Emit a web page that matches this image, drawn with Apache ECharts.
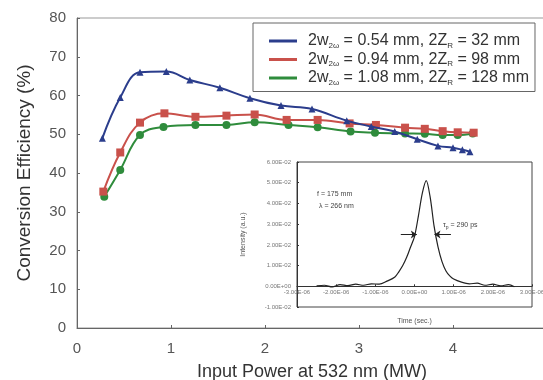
<!DOCTYPE html>
<html>
<head>
<meta charset="utf-8">
<script src="https://cdn.jsdelivr.net/npm/echarts@6/dist/echarts.min.js"></script>
<style>
  html, body { margin: 0; padding: 0; background: #fff; }
  #chart { width: 543px; height: 380px; }
</style>
</head>
<body>
<div id="chart"></div>
<script>
// main plot: conversion efficiency vs input power
const blueX = [0.27, 0.46, 0.67, 0.95, 1.2, 1.52, 1.84, 2.17, 2.5, 2.87, 3.13, 3.38, 3.62, 3.84, 4.0, 4.1, 4.18];
const blueY = [49, 59.5, 66, 66.2, 64, 62, 59.3, 57.4, 56.5, 53.5, 52, 50.7, 48.7, 47, 46.5, 46, 45.5];
const redX = [0.28, 0.46, 0.67, 0.93, 1.26, 1.59, 1.89, 2.23, 2.56, 2.9, 3.18, 3.49, 3.7, 3.89, 4.05, 4.22];
const redY = [35.2, 45.3, 53, 55.4, 54.5, 54.8, 55.1, 53.7, 53.7, 52.8, 52.4, 51.7, 51.4, 50.8, 50.5, 50.4];
const greenX = [0.29, 0.46, 0.67, 0.92, 1.26, 1.59, 1.89, 2.25, 2.56, 2.91, 3.17, 3.49, 3.7, 3.89, 4.05, 4.21];
const greenY = [33.9, 40.8, 49.8, 51.9, 52.4, 52.4, 53.1, 52.4, 51.8, 50.7, 50.4, 50.2, 50.1, 49.8, 49.8, 50.2];
const legendLabels = [
  '2w{sub|2ω} = 0.54 mm, 2Z{sub|R} = 32 mm',
  '2w{sub|2ω} = 0.94 mm, 2Z{sub|R} = 98 mm',
  '2w{sub|2ω} = 1.08 mm, 2Z{sub|R} = 128 mm'
];
const seriesNames = ['s054', 's094', 's108'];

// inset: pulse trace (time in s, intensity in a.u.)
const pulseTime = [-2.5e-6, -2.3e-6, -2.1e-6, -1.9e-6, -1.7e-6, -1.5e-6, -1.3e-6, -1.1e-6, -0.9e-6, -0.7e-6,
  -0.5e-6, -0.4e-6, -0.3e-6, -0.2e-6, -0.1e-6, 0, 0.1e-6, 0.2e-6, 0.3e-6, 0.4e-6, 0.5e-6, 0.6e-6, 0.7e-6,
  0.8e-6, 0.9e-6, 1.0e-6, 1.2e-6, 1.4e-6, 1.6e-6, 1.8e-6, 2.0e-6, 2.2e-6, 2.4e-6, 2.55e-6];
const pulseValue = [0.0002, 0.0005, -0.0003, 0.0008, 0.0003, 0.001, 0.0005, 0.0012, 0.001, 0.0025,
  0.0045, 0.007, 0.01, 0.014, 0.019, 0.024, 0.034, 0.045, 0.051, 0.043, 0.029, 0.019, 0.012,
  0.0075, 0.005, 0.0035, 0.002, 0.0012, 0.0015, 0.0005, 0.001, 0.0002, 0.0008, -0.0002];

const gray = '#555';
const font = 'Liberation Sans, Arial, sans-serif';

function pairs(xs, ys) { return xs.map((x, i) => [x, ys[i]]); }
function sci(v) {
  const s = v.toExponential(2).split('e');
  const e = parseInt(s[1], 10);
  const exp = (e < 0 ? '-' : '+') + String(Math.abs(e)).padStart(2, '0');
  return s[0] + 'E' + exp;
}

const chart = echarts.init(document.getElementById('chart'));
const mainColors = ['#2b3d8c', '#c9514b', '#2f8c3c'];
const symbols = ['triangle', 'rect', 'circle'];
const mainData = [pairs(blueX, blueY), pairs(redX, redY), pairs(greenX, greenY)];

const mainSeries = mainData.map((d, i) => ({
  name: seriesNames[i],
  type: 'line',
  xAxisIndex: 0,
  yAxisIndex: 0,
  data: d,
  smooth: 0.4,
  symbol: symbols[i],
  symbolSize: i === 0 ? 7 : 8,
  showSymbol: true,
  lineStyle: { color: mainColors[i], width: 2 },
  itemStyle: { color: mainColors[i] },
  z: 3 - i
}));

const option = {
  animation: false,
  textStyle: { fontFamily: font },
  grid: [
    { left: 77, top: 18, right: -4, bottom: 52, outerBoundsMode: 'none', show: true, borderColor: '#999', borderWidth: 1 },
    { left: 297, top: 162, right: 11, bottom: 73, outerBoundsMode: 'none', show: true, borderColor: '#444', borderWidth: 1, backgroundColor: '#fff', z: 5 }
  ],
  legend: {
    left: 253,
    top: 23,
    orient: 'vertical',
    data: seriesNames.map(n => ({ name: n, icon: 'rect' })),
    itemWidth: 28,
    itemHeight: 3,
    itemGap: 2,
    padding: [10, 6, 5, 16],
    borderColor: '#666',
    borderWidth: 1,
    backgroundColor: '#fff',
    formatter: name => legendLabels[seriesNames.indexOf(name)],
    textStyle: {
      fontFamily: font,
      fontSize: 16,
      color: '#333',
      padding: [0, 0, 0, 6],
      rich: {
        sub: { fontSize: 8, padding: [9, 0, 0, 0], color: '#333', fontFamily: font }
      }
    }
  },
  xAxis: [
    {
      gridIndex: 0, type: 'value', min: 0, max: 5, interval: 1,
      name: 'Input Power at 532 nm (MW)', nameLocation: 'middle', nameGap: 35,
      nameTextStyle: { fontSize: 18, color: '#333' },
      axisLine: { lineStyle: { color: '#666' } },
      axisTick: { inside: true, length: 3, lineStyle: { color: '#666' } },
      axisLabel: { fontSize: 15, color: gray, margin: 13 },
      splitLine: { show: false }
    },
    {
      gridIndex: 1, type: 'value', min: -3e-6, max: 3e-6, interval: 1e-6, z: 7,
      name: 'Time (sec.)', nameLocation: 'middle', nameGap: 31,
      nameTextStyle: { fontSize: 7, color: '#555' },
      offset: -20.7,
      axisLine: { onZero: false, lineStyle: { color: '#333' } },
      axisTick: { inside: true, length: 2, lineStyle: { color: '#333' } },
      axisLabel: { fontSize: 6, color: '#777', margin: 3, formatter: sci },
      splitLine: { show: false }
    }
  ],
  yAxis: [
    {
      gridIndex: 0, type: 'value', min: 0, max: 80, interval: 10,
      name: 'Conversion Efficiency (%)', nameLocation: 'middle', nameGap: 43,
      nameTextStyle: { fontSize: 19, color: '#333' },
      axisLine: { show: true, lineStyle: { color: '#666' } },
      axisTick: { show: true, inside: true, length: 3, lineStyle: { color: '#666' } },
      axisLabel: { fontSize: 15, color: gray, margin: 11 },
      splitLine: { show: false }
    },
    {
      gridIndex: 1, type: 'value', min: -0.01, max: 0.06, interval: 0.01, z: 7,
      name: 'Intensity (a.u.)', nameLocation: 'middle', nameGap: 50,
      nameTextStyle: { fontSize: 7, color: '#555' },
      axisLine: { show: true, onZero: false, lineStyle: { color: '#333' } },
      axisTick: { show: true, inside: true, length: 2, lineStyle: { color: '#333' } },
      axisLabel: { fontSize: 6, color: '#777', margin: 6, formatter: sci },
      splitLine: { show: false }
    }
  ],
  series: mainSeries.concat([
    {
      name: 'pulse',
      type: 'line',
      xAxisIndex: 1,
      yAxisIndex: 1,
      data: pairs(pulseTime, pulseValue),
      smooth: 0.3,
      showSymbol: false,
      lineStyle: { color: '#222', width: 1.2 },
      z: 8,
      markLine: {
        silent: true,
        symbol: ['none', 'arrow'],
        symbolSize: 6,
        label: { show: false },
        lineStyle: { color: '#222', width: 1, type: 'solid' },
        data: [
          [{ coord: [-0.35e-6, 0.025] }, { coord: [0.06e-6, 0.025] }],
          [{ coord: [0.93e-6, 0.025] }, { coord: [0.51e-6, 0.025] }]
        ]
      }
    }
  ]),
  graphic: [
    {
      type: 'text', left: 317, top: 188, z: 10,
      style: { text: 'f = 175 mm\n λ = 266 nm', fontSize: 7, lineHeight: 12, fill: '#444', fontFamily: font }
    },
    {
      type: 'text', left: 443, top: 222, z: 10,
      style: {
        text: '{t|τ}{s|p}{t| = 290 ps}',
        rich: {
          t: { fontSize: 7, fill: '#444', fontFamily: font },
          s: { fontSize: 5, fill: '#444', padding: [4, 0, 0, 0], fontFamily: font }
        }
      }
    }
  ]
};

chart.setOption(option);
</script>
</body>
</html>
